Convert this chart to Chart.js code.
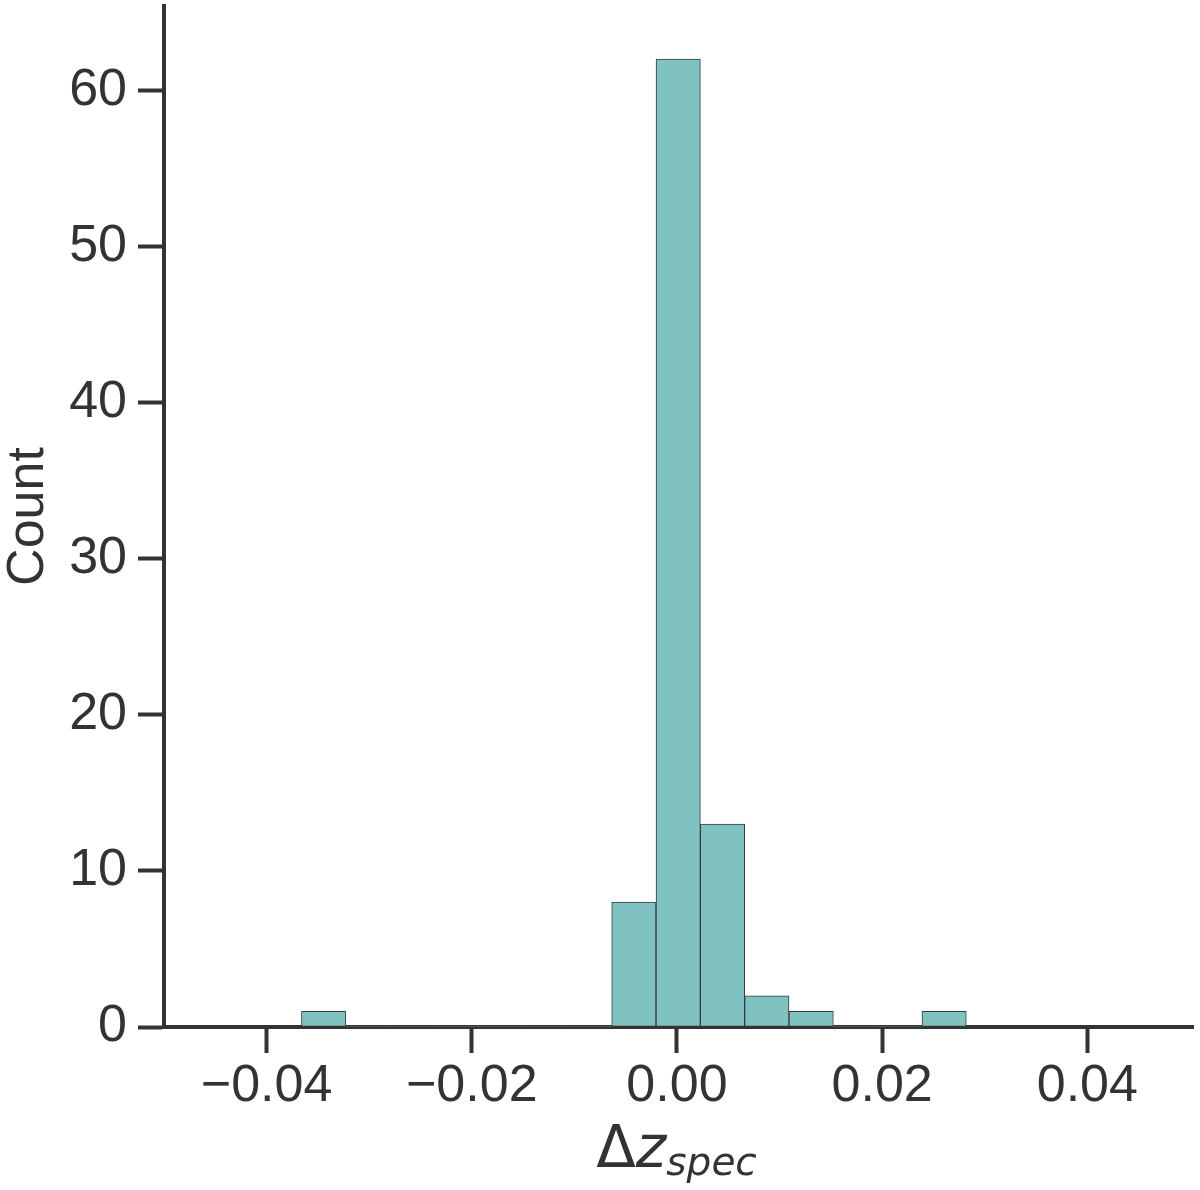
<!DOCTYPE html>
<html>
<head>
<meta charset="utf-8">
<title>Δz spec histogram</title>
<script src="https://cdn.jsdelivr.net/npm/chart.js@4.4.1/dist/chart.umd.min.js"></script>
<style>
    html, body { margin: 0; padding: 0; background: #ffffff; }
    #wrap { width: 1200px; height: 1190px; }
</style>
</head>
<body>
<div id="wrap"><canvas id="histChart" width="1200" height="1190"></canvas></div>
<script>
// histogram bins (centers), counts per bin
const binCenters = [-0.03444, -0.03012, -0.0258, -0.02148, -0.01716, -0.01284, -0.00852, -0.0042,
                    0.00012, 0.00444, 0.00876, 0.01308, 0.0174, 0.02172, 0.02604];
const binCounts = [1, 0, 0, 0, 0, 0, 0, 8, 62, 13, 2, 1, 0, 0, 1];
const xTicks = [-0.04, -0.02, 0.00, 0.02, 0.04];
const yTicks = [0, 10, 20, 30, 40, 50, 60];

const axisColor = '#333333';
const tickFont = { family: '"Liberation Sans", Arial, sans-serif', size: 52 };

// x label with subscript (Δz_spec), drawn under the axis
const xLabelPlugin = {
    id: 'xLabel',
    afterDraw(chart) {
        const ctx = chart.ctx;
        const area = chart.chartArea;
        const mainFont = 'italic 58px "DejaVu Sans", sans-serif';
        const deltaFont = '58px "DejaVu Sans", sans-serif';
        const subFont = 'italic 39px "DejaVu Sans", sans-serif';
        ctx.save();
        ctx.fillStyle = axisColor;
        ctx.textBaseline = 'alphabetic';
        ctx.font = deltaFont;
        const wDelta = ctx.measureText('Δ').width;
        ctx.font = mainFont;
        const wZ = ctx.measureText('z').width;
        ctx.font = subFont;
        const wSub = ctx.measureText('spec').width;
        const total = wDelta + wZ + wSub;
        let x = (area.left + area.right) / 2 - total / 2 - 2;
        const base = 1167;
        ctx.font = deltaFont;
        ctx.fillText('Δ', x, base);
        x += wDelta;
        ctx.font = mainFont;
        ctx.fillText('z', x, base);
        x += wZ;
        ctx.font = subFont;
        ctx.fillText('spec', x, base + 8);
        ctx.restore();
    }
};

const histData = binCenters.map((c, i) => ({ x: c, y: binCounts[i] }));

new Chart(document.getElementById('histChart'), {
    type: 'bar',
    data: {
        datasets: [{
            label: 'Count',
            data: histData,
            backgroundColor: '#80c1c1',
            borderColor: '#3a3a3a',
            borderWidth: ctx => (ctx.raw && ctx.raw.y > 0 ? 1 : 0),
            borderSkipped: false,
            barPercentage: 1.0,
            categoryPercentage: 1.0
        }]
    },
    options: {
        responsive: false,
        animation: false,
        layout: { padding: { top: 6, right: 7, left: 0, bottom: 0 } },
        plugins: {
            legend: { display: false },
            tooltip: { enabled: false }
        },
        scales: {
            x: {
                type: 'linear',
                min: -0.05,
                max: 0.0503,
                offset: false,
                afterFit: scale => {
                    scale.height = 163;
                    scale.paddingLeft = 0;
                    scale.paddingRight = 0;
                },
                afterBuildTicks: scale => { scale.ticks = xTicks.map(v => ({ value: v })); },
                ticks: {
                    font: tickFont,
                    color: axisColor,
                    padding: 2,
                    maxRotation: 0,
                    autoSkip: false,
                    callback: v => v.toFixed(2).replace('-', '\u2212')
                },
                grid: {
                    offset: false,
                    drawOnChartArea: false,
                    drawTicks: true,
                    tickLength: 26,
                    tickWidth: 4,
                    tickColor: axisColor
                },
                border: { display: true, color: axisColor, width: 4 },
                title: { display: false }
            },
            y: {
                type: 'linear',
                min: 0,
                max: 65.4,
                afterFit: scale => {
                    scale.width = 164;
                    scale.paddingTop = 0;
                    scale.paddingBottom = 0;
                },
                afterBuildTicks: scale => { scale.ticks = yTicks.map(v => ({ value: v })); },
                ticks: {
                    font: tickFont,
                    color: axisColor,
                    padding: 11,
                    autoSkip: false
                },
                grid: {
                    drawOnChartArea: false,
                    drawTicks: true,
                    tickLength: 26,
                    tickWidth: 4,
                    tickColor: axisColor
                },
                border: { display: true, color: axisColor, width: 4 },
                title: {
                    display: true,
                    text: 'Count',
                    color: axisColor,
                    font: { family: '"Liberation Sans", Arial, sans-serif', size: 52, lineHeight: 1.1 },
                    padding: { top: 0, bottom: 0 }
                }
            }
        }
    },
    plugins: [xLabelPlugin]
});
</script>
</body>
</html>
